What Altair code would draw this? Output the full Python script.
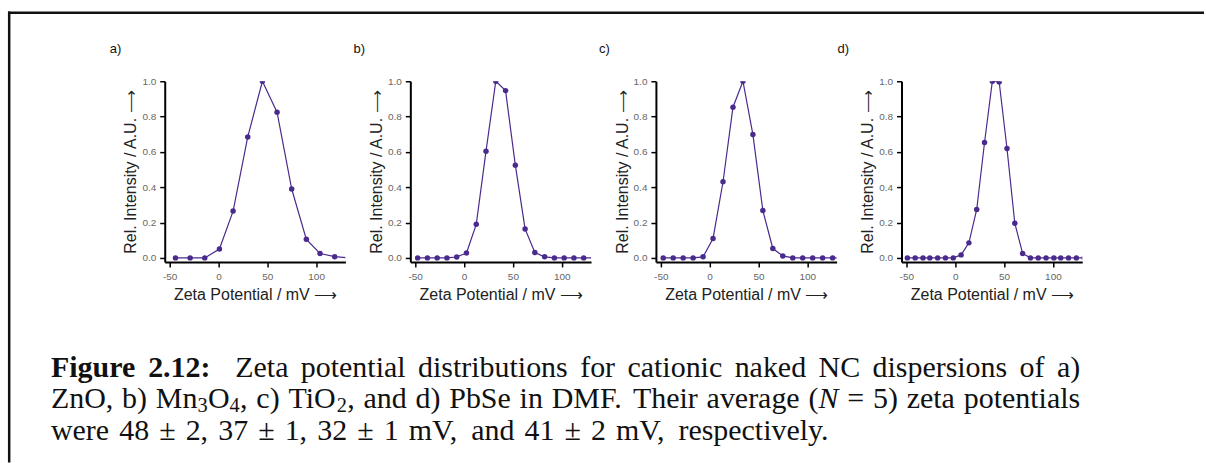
import altair as alt
import pandas as pd

# ---------------- values ----------------
a_x = [-44, -29, -14, 1, 15, 30, 45, 60, 75, 90, 104, 119, 134]
a_y = [0.0, 0.0, 0.0, 0.05, 0.265, 0.685, 1.0, 0.825, 0.39, 0.105, 0.025, 0.007, 0.0]

b_x = [-47.5, -37.5, -27.5, -17.5, -7.5, 2.5, 12.5, 22.5, 32.5, 42.5, 52.5, 62.5,
       72.5, 82.5, 92.5, 102.5, 112.5, 122.5, 132.5]
b_y = [0.0, 0.0, 0.0, 0.0, 0.005, 0.028, 0.19, 0.604, 1.0, 0.947, 0.525, 0.164,
       0.03, 0.006, 0.0, 0.0, 0.0, 0.0, 0.0]

c_x = [-47.5, -37.3, -27.1, -16.9, -6.7, 3.5, 13.7, 23.9, 34.1, 44.3, 54.5, 64.7,
       74.9, 85.1, 95.3, 105.5, 115.7, 125.9, 136.1]
c_y = [0.0, 0.0, 0.0, 0.0, 0.006, 0.11, 0.431, 0.853, 1.0, 0.698, 0.268, 0.053,
       0.011, 0.0, 0.0, 0.0, 0.0, 0.0, 0.0]

d_x = [-49, -41, -33, -26, -18, -10, -2, 6, 14, 22, 30, 38, 45, 53, 61, 69, 77,
       85, 93, 101, 108, 116, 124, 132]
d_y = [0.0, 0.0, 0.0, 0.0, 0.0, 0.0, 0.0, 0.017, 0.085, 0.274, 0.653, 1.0, 0.996,
       0.619, 0.196, 0.025, 0.0, 0.0, 0.0, 0.0, 0.0, 0.0, 0.0, 0.0]

panel_labels = ["a)", "b)", "c)", "d)"]
x_tick_values = [-50, 0, 50, 100]
y_tick_values = [0.0, 0.2, 0.4, 0.6, 0.8, 1.0]
x_title = "Zeta Potential / mV  \u27f6"
y_title = "Rel. Intensity / A.U.  \u27f6"

caption_lines = [
    "Figure 2.12: Zeta potential distributions for cationic naked NC dispersions of a)",
    "ZnO, b) Mn\u2083O\u2084, c) TiO\u2082, and d) PbSe in DMF. Their average (N = 5) zeta potentials",
    "were 48 \u00b1 2, 37 \u00b1 1, 32 \u00b1 1 mV, and 41 \u00b1 2 mV, respectively.",
]

# ---------------- style / layout ----------------
PURPLE = "#4b2a8e"
PLOT_W = 181
PLOT_H = 181
X_DOMAIN = [-55, 130]
Y_DOMAIN = [-0.023, 1.0]
PANEL_GAP = 65
PLOT_LEFT, PLOT_TOP = 163, 79          # page position of panel a's plot area
LABEL_DX = [-55, -57, -57, -64]
SANS = "Liberation Sans"
SERIF = "Liberation Serif"
CAP_SIZE = 30
CAP_X0 = 49
CAP_X1 = [1080, 1080, 830]
CAP_BASE = [375, 406, 438]
BORDER_X, BORDER_Y = 7.2, 10.3

# the caption layer shares the origin of the panel row
CAP_ORIGIN_X = PLOT_LEFT
CAP_ORIGIN_Y = PLOT_TOP


def panel(xs, ys, label, label_dx):
    df = pd.DataFrame({"x": xs, "y": ys})
    xenc = alt.X("x:Q",
                 scale=alt.Scale(domain=X_DOMAIN, nice=False, zero=False),
                 axis=alt.Axis(values=x_tick_values, title=x_title,
                               labelExpr="'' + datum.value"))
    yenc = alt.Y("y:Q",
                 scale=alt.Scale(domain=Y_DOMAIN, nice=False, zero=False),
                 axis=alt.Axis(values=y_tick_values, title=y_title, format=".1f"))
    base = alt.Chart(df).encode(x=xenc, y=yenc)
    line = base.mark_line(color=PURPLE, strokeWidth=1.2, clip=True)
    pts = base.mark_circle(color=PURPLE, size=30, opacity=1, clip=True)
    lab = alt.Chart(pd.DataFrame({"t": [label]})).mark_text(
        align="left", baseline="alphabetic", font=SANS, fontSize=13, color="#111"
    ).encode(text="t:N", x=alt.value(label_dx), y=alt.value(-28))
    return alt.layer(line, pts, lab).properties(width=PLOT_W, height=PLOT_H)


panels = [
    panel(a_x, a_y, panel_labels[0], LABEL_DX[0]),
    panel(b_x, b_y, panel_labels[1], LABEL_DX[1]),
    panel(c_x, c_y, panel_labels[2], LABEL_DX[2]),
    panel(d_x, d_y, panel_labels[3], LABEL_DX[3]),
]
row = alt.hconcat(*panels, spacing=PANEL_GAP, bounds="flush")

# ---------------- caption (justified, Times metrics) ----------------
W_REG = {" ": 250, "(": 333, ")": 333, ",": 250, ".": 250, "/": 278, ":": 278,
         "=": 564, "\u00b1": 549,
         "A": 722, "C": 667, "D": 722, "F": 556, "M": 889, "N": 722, "O": 722,
         "P": 556, "S": 556, "T": 611, "V": 722, "Z": 611,
         "a": 444, "b": 500, "c": 444, "d": 500, "e": 444, "f": 333, "g": 500,
         "h": 500, "i": 278, "k": 500, "l": 278, "m": 778, "n": 500, "o": 500,
         "p": 500, "r": 333, "s": 389, "t": 278, "u": 500, "v": 500, "w": 722,
         "y": 500, "z": 444}
W_BOLD = {"F": 611, "i": 278, "g": 500, "u": 556, "r": 444, "e": 444, ".": 250,
          ":": 333}
W_ITAL = {"N": 667}
SUBS = {"\u2080": "0", "\u2081": "1", "\u2082": "2", "\u2083": "3", "\u2084": "4",
        "\u2085": "5", "\u2086": "6", "\u2087": "7", "\u2088": "8", "\u2089": "9"}


def char_w(ch, style):
    if style == "b":
        w = W_BOLD.get(ch, W_REG.get(ch, 500))
    elif style == "i":
        w = W_ITAL.get(ch, W_REG.get(ch, 500))
    else:
        w = W_REG.get(ch, 500)
    size = CAP_SIZE * 0.7 if style == "s" else CAP_SIZE
    return w / 1000.0 * size


def word_runs(word, li, wi):
    runs = []
    for ch in word:
        if ch in SUBS:
            style, c = "s", SUBS[ch]
        elif li == 0 and wi < 2:
            style, c = "b", ch
        elif word == "(N" and ch == "N":
            style, c = "i", ch
        else:
            style, c = "r", ch
        if runs and runs[-1][1] == style:
            runs[-1][0] += c
        else:
            runs.append([c, style])
    return runs


rows = []
for li, text in enumerate(caption_lines):
    words = text.split(" ")
    wruns = [word_runs(w, li, wi) for wi, w in enumerate(words)]
    widths = [sum(sum(char_w(c, s) for c in t) for t, s in r) for r in wruns]
    weights = [2.0 if w.endswith(":") else 1.0 for w in words[:-1]]
    gap = (CAP_X1[li] - CAP_X0 - sum(widths)) / sum(weights)
    x = CAP_X0
    for wi, runs in enumerate(wruns):
        rx = x
        for t, s in runs:
            rows.append({"x": rx - CAP_ORIGIN_X, "y": CAP_BASE[li] - CAP_ORIGIN_Y,
                         "text": t, "style": s})
            rx += sum(char_w(c, s) for c in t)
        if wi < len(weights):
            x += widths[wi] + gap * weights[wi]
cap_df = pd.DataFrame(rows)


def cap_layer(style, **kw):
    return alt.Chart(cap_df[cap_df["style"] == style]).mark_text(
        align="left", baseline="alphabetic", font=SERIF, color="#111", **kw
    ).encode(x=alt.X("x:Q", scale=None, axis=None),
             y=alt.Y("y:Q", scale=None, axis=None),
             text="text:N")


one = pd.DataFrame({"k": [0]})
top_rule = alt.Chart(one).mark_rule(color="#111", strokeWidth=2.5).encode(
    x=alt.value(BORDER_X - 1.2 - CAP_ORIGIN_X), x2=alt.value(1204 - CAP_ORIGIN_X),
    y=alt.value(BORDER_Y - CAP_ORIGIN_Y))
left_rule = alt.Chart(one).mark_rule(color="#111", strokeWidth=2.5).encode(
    x=alt.value(BORDER_X - CAP_ORIGIN_X),
    y=alt.value(BORDER_Y - 1.2 - CAP_ORIGIN_Y), y2=alt.value(461 - CAP_ORIGIN_Y))

caption = alt.layer(
    top_rule, left_rule,
    cap_layer("r", fontSize=CAP_SIZE),
    cap_layer("b", fontSize=CAP_SIZE, fontWeight="bold"),
    cap_layer("i", fontSize=CAP_SIZE, fontStyle="italic"),
    cap_layer("s", fontSize=CAP_SIZE * 0.68, dy=CAP_SIZE * 0.14),
).properties(width=1000, height=300)

chart = alt.vconcat(row, caption, spacing=0, bounds="flush").properties(
    padding={"left": 6, "top": 9, "right": 0, "bottom": 0},
    background="white",
).configure_view(strokeWidth=0).configure_axis(
    grid=False,
    domainColor="black", domainWidth=2,
    tickColor="black", tickWidth=1.5, tickSize=5,
    labelFont=SANS, labelFontSize=10, labelColor="#666", labelFlush=False,
    labelOverlap=False,
    titleFont=SANS, titleFontSize=16, titleFontWeight="normal", titleColor="#222",
).configure_axisX(labelPadding=5, titlePadding=5).configure_axisY(
    labelPadding=4, titlePadding=3)

chart.save("out.html", embed_options={"renderer": "svg", "actions": False})
